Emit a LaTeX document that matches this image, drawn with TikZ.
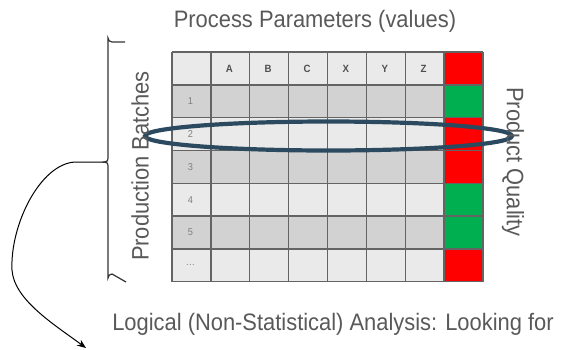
\documentclass[tikz,border=0pt]{standalone}
\usepackage{fontspec}
\setmainfont{Liberation Sans}
\newfontfamily\narrowfont[FakeStretch=0.92]{Liberation Sans}
\usetikzlibrary{arrows.meta}
\definecolor{txtgray}{HTML}{595959}
\definecolor{cellL}{HTML}{EAEAEA}
\definecolor{cellD}{HTML}{D2D2D2}
\definecolor{gridc}{HTML}{646464}
\definecolor{qred}{HTML}{FF0000}
\definecolor{qgreen}{HTML}{00B050}
\definecolor{ellc}{HTML}{2C4A5F}
\tikzset{
  bigtext/.style={font=\narrowfont\fontsize{23.8}{26}\selectfont, text=txtgray, inner sep=0pt},
  hdr/.style={font=\narrowfont\fontsize{10.5}{11}\selectfont\bfseries, text=txtgray!90!black},
  rowlab/.style={font=\narrowfont\fontsize{10}{11}\selectfont, text=gray},
  gridline/.style={draw=gridc, line width=1.4pt},
}
\newcommand{\mydots}{.\kern0.5pt.\kern0.5pt.}
\begin{document}
\begin{tikzpicture}[x=1pt,y=-1pt]
\useasboundingbox (0,0) rectangle (573,349);
\def\cw{38.875}
\def\rh{32.8}
% cells
\foreach \r in {0,1,2,3,4,5,6}{
  \pgfmathsetmacro{\ya}{52+\r*\rh}
  \pgfmathsetmacro{\yb}{52+(\r+1)*\rh}
  \pgfmathtruncatemacro{\odd}{mod(\r,2)}
  \ifnum\odd=1
    \fill[cellD] (172,\ya) rectangle (444.1,\yb);
  \else
    \fill[cellL] (172,\ya) rectangle (444.1,\yb);
  \fi
}
% quality column
\foreach \r/\c in {0/qred,1/qgreen,2/qred,3/qred,4/qgreen,5/qgreen,6/qred}{
  \fill[\c] (444.1,52+\r*\rh) rectangle (483,52+\r*\rh+\rh);
}
% grid
\foreach \i in {0,1,2,3,4,5,6,7,8}{
  \draw[gridline] (172+\i*\cw,52) -- (172+\i*\cw,281.6);
}
\foreach \j in {0,1,2,3,4,5,6,7}{
  \draw[gridline] (172,52+\j*\rh) -- (483,52+\j*\rh);
}
% header letters
\foreach \l [count=\k] in {A,B,C,X,Y,Z}{
  \node[hdr] (h\k) at (172+\k*\cw+\cw/2-1,68.4) {\l};
}
% row labels
\foreach \l [count=\k] in {1,2,3,4,5,\mydots}{
  \node[rowlab] (r\k) at (172+\cw/2-1,52+\k*\rh+\rh/2) {\l};
}
% ellipse
\draw[ellc, line width=4.2pt] (328.5,136) ellipse [x radius=183.5, y radius=14.5];
% titles
\node[bigtext, anchor=base] (title) at (315,27) {Process Parameters (values)};
\node[bigtext, anchor=base] (bottom) at (333,330) {Logical (Non-Statistical) Analysis: Looking for};
\node[bigtext, rotate=90] (pb) at (140,166) {Production Batches};
\node[bigtext, rotate=-90] (pq) at (513,162) {Product Quality};
% brace
\coordinate (btip) at (104,162);
\draw[black!80, line width=1.2pt] (125,42) -- (112,42) arc[start angle=90,end angle=180,radius=4] -- (108,158) .. controls (108,161) .. (104,162) .. controls (108,163) .. (108,166) -- (108,278) arc[start angle=180,end angle=270,radius=4] -- (126,282);
% arrow
\coordinate (aend) at (86,348);
\draw[black, line width=1pt, -{Stealth[length=9pt,width=7pt]}] (btip) -- (75,162) .. controls (40,164) and (10,225) .. (12,270) .. controls (14,300) and (55,325) .. (aend);
\end{tikzpicture}
\end{document}
